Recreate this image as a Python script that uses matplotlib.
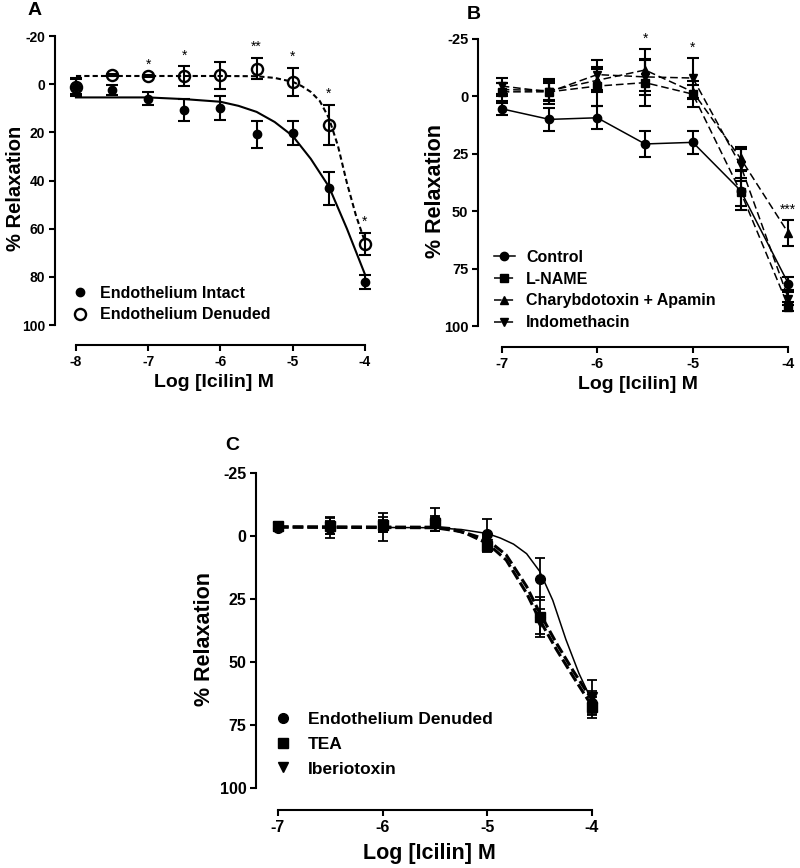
import numpy as np
import matplotlib
matplotlib.use("Agg")
import matplotlib.pyplot as plt

# concentration-response data (% relaxation, mean and SEM)
log_icilin_A = [-8, -7.5, -7, -6.5, -6, -5.5, -5, -4.5, -4]
intact = [1.0, 2.5, 6.0, 10.8, 9.7, 20.8, 20.1, 43.2, 82.2]
intact_sem = [3.0, 2.0, 2.8, 4.6, 5.0, 5.7, 5.0, 6.9, 2.9]
denuded = [1.0, -3.7, -3.3, -3.3, -3.7, -6.5, -1.0, 17.0, 66.2]
denuded_sem = [3.7, 0.5, 0.5, 4.1, 5.5, 4.5, 5.8, 8.4, 4.6]
stars_A = ["", "", "*", "*", "", "**", "*", "*", "*"]

# fitted curves
fit_intact_x = [-8, -7, -6.5, -6, -5.75, -5.5, -5.25, -5.0, -4.75, -4.5, -4.25, -4.0]
fit_intact_y = [5.5, 5.5, 6.2, 7.3, 9.0, 11.5, 15.7, 21.5, 31.0, 42.5, 60.0, 79.0]
fit_denuded_x = [-8, -6, -5.5, -5.25, -5.0, -4.875, -4.75, -4.625, -4.5, -4.375, -4.25, -4.125, -4.0]
fit_denuded_y = [-3.4, -3.4, -3.3, -2.6, -1.0, 0.8, 3.2, 7.0, 14.0, 25.5, 41.0, 54.5, 65.5]

log_icilin_B = [-7, -6.5, -6, -5.5, -5, -4.5, -4]
control = [5.4, 10.0, 9.3, 20.7, 20.0, 41.0, 81.5]
control_sem = [2.5, 5.0, 5.0, 5.8, 4.9, 8.5, 3.0]
lname = [-2.0, -2.0, -4.5, -6.0, -1.0, 41.5, 91.5]
lname_sem = [4.0, 5.5, 8.5, 10.0, 5.5, 6.0, 2.0]
charyb = [-3.0, -2.5, -7.0, -11.5, -2.0, 27.0, 59.5]
charyb_sem = [3.0, 4.0, 5.0, 9.0, 3.0, 5.0, 5.5]
indo = [-4.5, -2.0, -9.5, -8.5, -8.0, 30.0, 88.0]
indo_sem = [3.5, 4.0, 6.5, 8.0, 8.7, 7.0, 3.0]
stars_B = {-5.5: ("*", -20.5), -5: ("*", -16.8), -4: ("***", 54.0)}

log_icilin_C = [-7, -6.5, -6, -5.5, -5, -4.5, -4]
tea = [-4.0, -4.0, -4.5, -5.0, 4.0, 32.0, 68.0]
tea_sem = [1.5, 3.0, 3.0, 3.0, 2.5, 8.0, 4.0]
ibtx = [-3.5, -3.5, -4.0, -4.5, 3.0, 34.0, 64.0]
ibtx_sem = [1.5, 2.5, 2.5, 2.5, 2.5, 5.0, 7.0]
fit_tea_x = [-7, -5.5, -5.36, -5.2, -5.0, -4.82, -4.625, -4.5, -4.34, -4.18, -4.0]
fit_tea_y = [-3.7, -3.5, -3.0, -1.0, 2.9, 9.5, 22.7, 33.3, 45.0, 55.8, 67.5]
fit_ibtx_x = [-7, -5.5, -5.25, -5.0, -4.82, -4.625, -4.5, -4.34, -4.18, -4.0]
fit_ibtx_y = [-3.5, -3.3, -1.8, 1.5, 7.5, 20.0, 30.5, 42.5, 53.5, 65.0]

plt.rcParams["font.family"] = "Liberation Sans"
plt.rcParams["font.weight"] = "bold"
plt.rcParams["axes.unicode_minus"] = False

W, H = 800, 868
fig = plt.figure(figsize=(W / 100, H / 100), dpi=100)


def frame(l, r, t, b):
    return [l / W, 1 - b / H, (r - l) / W, (b - t) / H]


def style(ax, xlim, ylim, xb, yb, yticks, xticks, tsize):
    ax.set_xlim(*xlim)
    ax.set_ylim(*ylim)
    for s in ["top", "right"]:
        ax.spines[s].set_visible(False)
    for s in ["left", "bottom"]:
        ax.spines[s].set_linewidth(1.5)
    ax.spines["bottom"].set_bounds(*xb)
    ax.spines["left"].set_bounds(*yb)
    ax.set_yticks(yticks)
    ax.set_xticks(xticks)
    ax.tick_params(width=1.5, length=4, labelsize=tsize, pad=3)
    for lab in ax.get_xticklabels() + ax.get_yticklabels():
        lab.set_fontweight("bold")


def labels(ax, xsize, ysize, ylab_right_px, left_px, width_px, xpad):
    ax.set_xlabel("Log [Icilin] M", fontsize=xsize, fontweight="bold", labelpad=xpad)
    ax.set_ylabel("% Relaxation", fontsize=ysize, fontweight="bold")
    ax.yaxis.set_label_coords((ylab_right_px - left_px) / width_px, 0.5)


lw = 1.5
ebkw = dict(fmt="none", ecolor="black", elinewidth=1.5, capsize=4, capthick=1.5, zorder=3, clip_on=False)

# ---------------- panel A
axA = fig.add_axes(frame(55, 372.2, 31.2, 345))
axA.plot(fit_intact_x, fit_intact_y, color="black", lw=lw, clip_on=False)
axA.plot(fit_denuded_x, fit_denuded_y, color="black", lw=lw, ls=(0, (2.5, 1.5)), clip_on=False)
axA.errorbar(log_icilin_A, intact, yerr=intact_sem, **ebkw)
axA.errorbar(log_icilin_A, denuded, yerr=denuded_sem, **ebkw)
axA.plot(log_icilin_A, intact, "o", ls="none", color="black", ms=6, zorder=4,
         clip_on=False, label="Endothelium Intact")
axA.plot(log_icilin_A, denuded, "o", ls="none", mfc="none", mec="black", mew=1.7, ms=8,
         zorder=4, clip_on=False, label="Endothelium Denuded")
for x, y, e, s in zip(log_icilin_A, denuded, denuded_sem, stars_A):
    if s:
        axA.text(x, y - e - 1.5, s, ha="center", va="bottom", fontsize=10, fontweight="normal")
style(axA, (-8.29, -3.9), (108.3, -22), (-8, -4), (100, -20),
      [-20, 0, 20, 40, 60, 80, 100], [-8, -7, -6, -5, -4], 10)
labels(axA, 14, 14.5, 25, 55, 317.2, 4)
axA.legend(loc="upper left", bbox_to_anchor=(72 / W, 1 - 286 / H), bbox_transform=fig.transFigure,
           frameon=False, fontsize=11.5, handlelength=1.0, handletextpad=0.75, borderpad=0,
           labelspacing=0.4, borderaxespad=0)

# ---------------- panel B
axB = fig.add_axes(frame(478, 797.9, 34.4, 347))
series_B = [
    (control, control_sem, "o", "-", 6, "Control"),
    (lname, lname_sem, "s", (0, (5, 2.5)), 5.5, "L-NAME"),
    (charyb, charyb_sem, "^", (0, (5, 2.5)), 6, "Charybdotoxin + Apamin"),
    (indo, indo_sem, "v", (0, (5, 2.5)), 6, "Indomethacin"),
]
for ys, es, mk, ls, ms, lab in series_B:
    axB.errorbar(log_icilin_B, ys, yerr=es, **ebkw)
    axB.plot(log_icilin_B, ys, marker=mk, ls=ls, lw=1.1, color="black", ms=ms, zorder=4,
             clip_on=False, label=lab)
for x, (s, top) in stars_B.items():
    axB.text(x, top - 1.5, s, ha="center", va="bottom", fontsize=10, fontweight="normal")
style(axB, (-7.248, -3.9), (109.1, -27), (-7, -4), (100, -25),
      [-25, 0, 25, 50, 75, 100], [-7, -6, -5, -4], 10.5)
labels(axB, 14, 15.5, 446, 478, 319.9, 4)
axB.legend(loc="upper left", bbox_to_anchor=(494 / W, 1 - 250 / H), bbox_transform=fig.transFigure,
           frameon=False, fontsize=11.5, handlelength=1.3, handletextpad=0.7, borderpad=0,
           labelspacing=0.42, borderaxespad=0)

# ---------------- panel C
axC = fig.add_axes(frame(256, 602.5, 468, 810))
axC.plot(fit_denuded_x[1:], fit_denuded_y[1:], color="black", lw=1.1, clip_on=False, zorder=2)
axC.plot(fit_tea_x, fit_tea_y, color="black", lw=2.2, ls=(0, (3.5, 1.3)), clip_on=False, zorder=2)
axC.plot(fit_ibtx_x, fit_ibtx_y, color="black", lw=2.2, ls=(0, (3.5, 1.3)), clip_on=False, zorder=2)
ebC = dict(ebkw, capsize=3.5, elinewidth=1.3, capthick=1.3)
axC.errorbar(log_icilin_C, denuded[2:], yerr=denuded_sem[2:], **ebC)
axC.errorbar(log_icilin_C, tea, yerr=tea_sem, **ebC)
axC.errorbar(log_icilin_C, ibtx, yerr=ibtx_sem, **ebC)
axC.plot(log_icilin_C, denuded[2:], "o", ls="none", color="black", ms=7, zorder=4,
         clip_on=False, label="Endothelium Denuded")
axC.plot(log_icilin_C, tea, "s", ls="none", color="black", ms=6.5, zorder=4,
         clip_on=False, label="TEA")
axC.plot(log_icilin_C, ibtx, "v", ls="none", color="black", ms=7, zorder=4,
         clip_on=False, label="Iberiotoxin")
style(axC, (-7.21, -3.9), (108.7, -27), (-7, -4), (100, -25),
      [-25, 0, 25, 50, 75, 100], [-7, -6, -5, -4], 11.5)
labels(axC, 15.5, 15.5, 215, 256, 346.5, 6)
axC.legend(loc="upper left", bbox_to_anchor=(274 / W, 1 - 712 / H), bbox_transform=fig.transFigure,
           frameon=False, fontsize=12.5, handlelength=1.0, handletextpad=0.95, borderpad=0,
           labelspacing=0.55, borderaxespad=0)

# panel letters
fig.text(28 / W, 1 - 2 / H, "A", fontsize=14, fontweight="bold", va="top")
fig.text(467 / W, 1 - 6 / H, "B", fontsize=14, fontweight="bold", va="top")
fig.text(225 / W, 1 - 437 / H, "C", fontsize=14, fontweight="bold", va="top")

fig.savefig("out.png", dpi=100)
